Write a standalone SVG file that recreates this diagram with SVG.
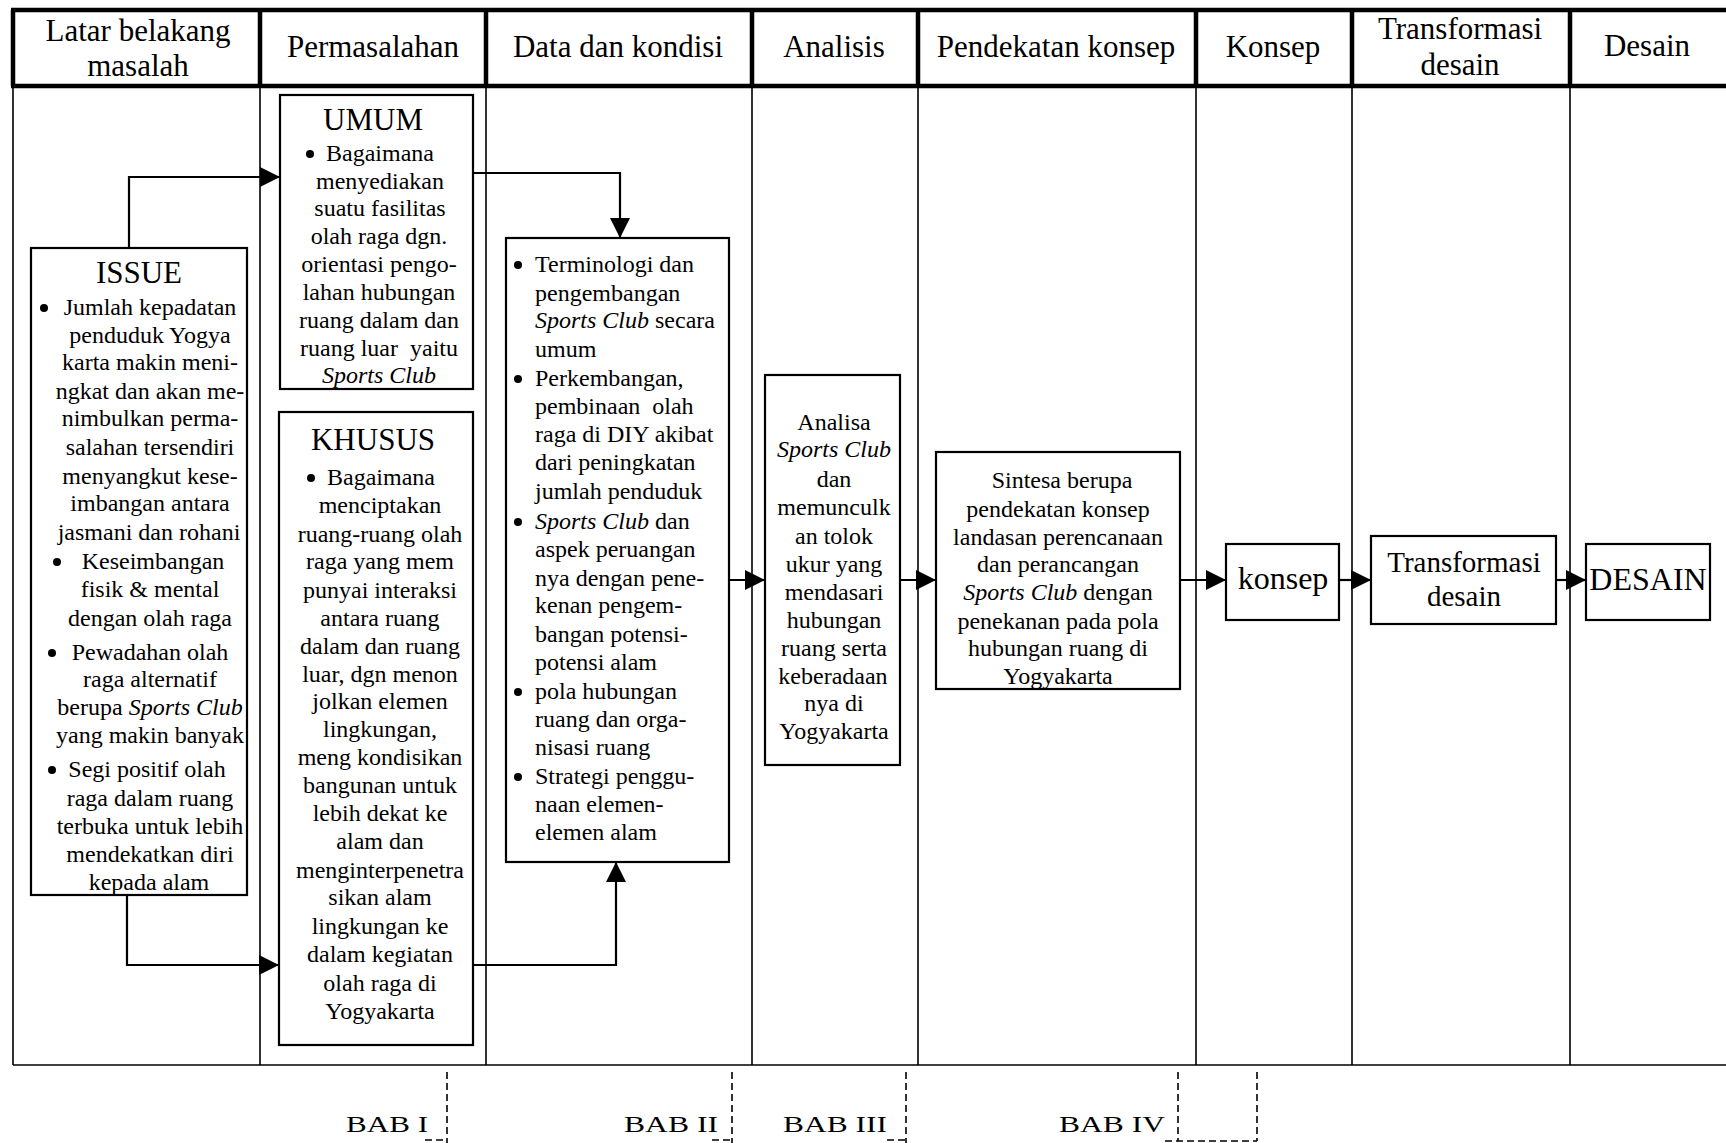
<svg xmlns="http://www.w3.org/2000/svg" width="1726" height="1143" viewBox="0 0 1726 1143">
<style>
  text { font-family: "Liberation Serif", "Times New Roman", serif; fill: #000; }
  .h { font-size: 31px; text-anchor: middle; }
  .t { font-size: 24px; }
  .c { text-anchor: middle; }
  .title { font-size: 31px; text-anchor: middle; }
  .big { font-size: 32px; text-anchor: middle; }
  .i { font-style: italic; }
  .box { fill: #fff; stroke: #000; stroke-width: 2.2; }
  .thick { stroke: #000; stroke-width: 4.5; fill: none; }
  .thin { stroke: #000; stroke-width: 1.6; fill: none; }
  .conn { stroke: #000; stroke-width: 2.2; fill: none; marker-end: url(#arr); }
  .dash { stroke: #000; stroke-width: 1.6; fill: none; stroke-dasharray: 7 4; }
  .bab { font-size: 24px; }
</style>
<defs>
  <marker id="arr" markerUnits="userSpaceOnUse" markerWidth="21" markerHeight="21" refX="20" refY="10" orient="auto">
    <path d="M0,0 L20,10 L0,20 Z" fill="#000"/>
  </marker>
</defs>
<rect width="1726" height="1143" fill="#fff"/>

<g id="table">
  <path class="thin" d="M13,86 V1065 M260,86 V1065 M486,86 V1065 M752,86 V1065 M918,86 V1065 M1196,86 V1065 M1352,86 V1065 M1570,86 V1065 M13,1065 H1726"/>
  <path class="thick" d="M11,10 H1726 M11,86 H1726 M13,10 V86 M260,10 V86 M486,10 V86 M752,10 V86 M918,10 V86 M1196,10 V86 M1352,10 V86 M1570,10 V86"/>
  <text class="h" x="138" y="41">Latar belakang</text>
  <text class="h" x="138" y="76">masalah</text>
  <text class="h" x="373" y="57">Permasalahan</text>
  <text class="h" x="618" y="57">Data dan kondisi</text>
  <text class="h" x="834" y="57">Analisis</text>
  <text class="h" x="1056" y="57">Pendekatan konsep</text>
  <text class="h" x="1273" y="57">Konsep</text>
  <text class="h" x="1460" y="39">Transformasi</text>
  <text class="h" x="1460" y="75">desain</text>
  <text class="h" x="1647" y="56">Desain</text>
</g>

<g id="connectors">
  <path class="conn" d="M129,248 V177 H280"/>
  <path class="conn" d="M127,895 V965 H279"/>
  <path class="conn" d="M473,173 H620 V238"/>
  <path class="conn" d="M473,965 H616 V862"/>
  <path class="conn" d="M729,580 H765"/>
  <path class="conn" d="M900,580 H936"/>
  <path class="conn" d="M1180,580 H1226"/>
  <path class="conn" d="M1339,580 H1371"/>
  <path class="conn" d="M1556,580 H1586"/>
</g>

<g id="issue">
  <rect class="box" x="31" y="248" width="216" height="647"/>
  <text class="title" x="139" y="283">ISSUE</text>
  <circle cx="44" cy="308" r="4"/>
  <circle cx="57" cy="562" r="4"/>
  <circle cx="52" cy="653" r="4"/>
  <circle cx="52" cy="770" r="4"/>
  <g class="t c">
    <text x="150" y="315">Jumlah kepadatan</text>
    <text x="150" y="343">penduduk Yogya</text>
    <text x="150" y="370">karta makin meni-</text>
    <text x="150" y="399">ngkat dan akan me-</text>
    <text x="150" y="426">nimbulkan perma-</text>
    <text x="150" y="455">salahan tersendiri</text>
    <text x="150" y="484">menyangkut kese-</text>
    <text x="150" y="511">imbangan antara</text>
    <text x="149" y="540">jasmani dan rohani</text>
    <text x="153" y="569">Keseimbangan</text>
    <text x="150" y="597">fisik &amp; mental</text>
    <text x="150" y="626">dengan olah raga</text>
    <text x="150" y="660">Pewadahan olah</text>
    <text x="150" y="687">raga alternatif</text>
    <text x="150" y="715">berupa <tspan class="i">Sports Club</tspan></text>
    <text x="150" y="743">yang makin banyak</text>
    <text x="147" y="777">Segi positif olah</text>
    <text x="150" y="806">raga dalam ruang</text>
    <text x="150" y="834">terbuka untuk lebih</text>
    <text x="150" y="862">mendekatkan diri</text>
    <text x="149" y="890">kepada alam</text>
  </g>
</g>

<g id="umum">
  <rect class="box" x="280" y="95" width="193" height="294"/>
  <text class="title" x="373" y="130">UMUM</text>
  <circle cx="310" cy="154" r="4"/>
  <g class="t c">
    <text x="380" y="161">Bagaimana</text>
    <text x="380" y="189">menyediakan</text>
    <text x="380" y="216">suatu fasilitas</text>
    <text x="379" y="244">olah raga dgn.</text>
    <text x="379" y="272">orientasi pengo-</text>
    <text x="379" y="300">lahan hubungan</text>
    <text x="379" y="328">ruang dalam dan</text>
    <text x="379" y="356" xml:space="preserve">ruang luar  yaitu</text>
    <text x="379" y="383" class="i">Sports Club</text>
  </g>
</g>

<g id="khusus">
  <rect class="box" x="279" y="412" width="194" height="633"/>
  <text class="title" x="373" y="450">KHUSUS</text>
  <circle cx="311" cy="478" r="4"/>
  <g class="t c">
    <text x="381" y="485">Bagaimana</text>
    <text x="380" y="513">menciptakan</text>
    <text x="380" y="542">ruang-ruang olah</text>
    <text x="380" y="569">raga yang mem</text>
    <text x="380" y="598">punyai interaksi</text>
    <text x="380" y="626">antara ruang</text>
    <text x="380" y="654">dalam dan ruang</text>
    <text x="380" y="682">luar, dgn menon</text>
    <text x="380" y="709">jolkan elemen</text>
    <text x="380" y="737">lingkungan,</text>
    <text x="380" y="765">meng kondisikan</text>
    <text x="380" y="793">bangunan untuk</text>
    <text x="380" y="821">lebih dekat ke</text>
    <text x="380" y="849">alam dan</text>
    <text x="380" y="878">menginterpenetra</text>
    <text x="380" y="905">sikan alam</text>
    <text x="380" y="934">lingkungan ke</text>
    <text x="380" y="962">dalam kegiatan</text>
    <text x="380" y="991">olah raga di</text>
    <text x="380" y="1019">Yogyakarta</text>
  </g>
</g>

<g id="data">
  <rect class="box" x="506" y="238" width="223" height="624"/>
  <circle cx="518" cy="265" r="4"/>
  <circle cx="518" cy="379" r="4"/>
  <circle cx="518" cy="522" r="4"/>
  <circle cx="518" cy="692" r="4"/>
  <circle cx="518" cy="777" r="4"/>
  <g class="t">
    <text x="535" y="272">Terminologi dan</text>
    <text x="535" y="301">pengembangan</text>
    <text x="535" y="328"><tspan class="i">Sports Club</tspan> secara</text>
    <text x="535" y="357">umum</text>
    <text x="535" y="386">Perkembangan,</text>
    <text x="535" y="414" xml:space="preserve">pembinaan  olah</text>
    <text x="535" y="442">raga di DIY akibat</text>
    <text x="535" y="470">dari peningkatan</text>
    <text x="535" y="499">jumlah penduduk</text>
    <text x="535" y="529"><tspan class="i">Sports Club</tspan> dan</text>
    <text x="535" y="557">aspek peruangan</text>
    <text x="535" y="586">nya dengan pene-</text>
    <text x="535" y="613">kenan pengem-</text>
    <text x="535" y="642">bangan potensi-</text>
    <text x="535" y="670">potensi alam</text>
    <text x="535" y="699">pola hubungan</text>
    <text x="535" y="727">ruang dan orga-</text>
    <text x="535" y="755">nisasi ruang</text>
    <text x="535" y="784">Strategi penggu-</text>
    <text x="535" y="812">naan elemen-</text>
    <text x="535" y="840">elemen alam</text>
  </g>
</g>

<g id="analisa">
  <rect class="box" x="765" y="375" width="135" height="390"/>
  <g class="t c">
    <text x="834" y="430">Analisa</text>
    <text x="834" y="457" class="i">Sports Club</text>
    <text x="834" y="487">dan</text>
    <text x="834" y="515">memunculk</text>
    <text x="834" y="544">an tolok</text>
    <text x="834" y="572">ukur yang</text>
    <text x="834" y="600">mendasari</text>
    <text x="834" y="628">hubungan</text>
    <text x="834" y="656">ruang serta</text>
    <text x="833" y="684">keberadaan</text>
    <text x="834" y="711">nya di</text>
    <text x="834" y="739">Yogyakarta</text>
  </g>
</g>

<g id="sintesa">
  <rect class="box" x="936" y="452" width="244" height="237"/>
  <g class="t c">
    <text x="1062" y="488">Sintesa berupa</text>
    <text x="1058" y="517">pendekatan konsep</text>
    <text x="1058" y="545">landasan perencanaan</text>
    <text x="1058" y="572">dan perancangan</text>
    <text x="1058" y="600"><tspan class="i">Sports Club</tspan> dengan</text>
    <text x="1058" y="629">penekanan pada pola</text>
    <text x="1058" y="656">hubungan ruang di</text>
    <text x="1058" y="684">Yogyakarta</text>
  </g>
</g>

<g id="konsep">
  <rect class="box" x="1226" y="544" width="113" height="76"/>
  <text class="big" x="1283" y="589">konsep</text>
</g>

<g id="transformasi">
  <rect class="box" x="1371" y="536" width="185" height="88"/>
  <text class="big" x="1464" y="572" style="font-size:29px">Transformasi</text>
  <text class="big" x="1464" y="606" style="font-size:29px">desain</text>
</g>

<g id="desain">
  <rect class="box" x="1586" y="544" width="124" height="76"/>
  <text class="big" x="1648" y="590">DESAIN</text>
</g>

<g id="bab">
  <path class="dash" d="M447,1072 V1143 M425,1140 H447 M732,1072 V1143 M712,1140 H732 M906,1072 V1143 M887,1140 H906 M1178,1072 V1141 M1165,1141 H1257 M1257,1072 V1141"/>
  <text class="bab" x="346" y="1132" textLength="82" lengthAdjust="spacingAndGlyphs">BAB I</text>
  <text class="bab" x="624" y="1132" textLength="94" lengthAdjust="spacingAndGlyphs">BAB II</text>
  <text class="bab" x="783" y="1132" textLength="104" lengthAdjust="spacingAndGlyphs">BAB III</text>
  <text class="bab" x="1059" y="1132" textLength="106" lengthAdjust="spacingAndGlyphs">BAB IV</text>
</g>
</svg>
